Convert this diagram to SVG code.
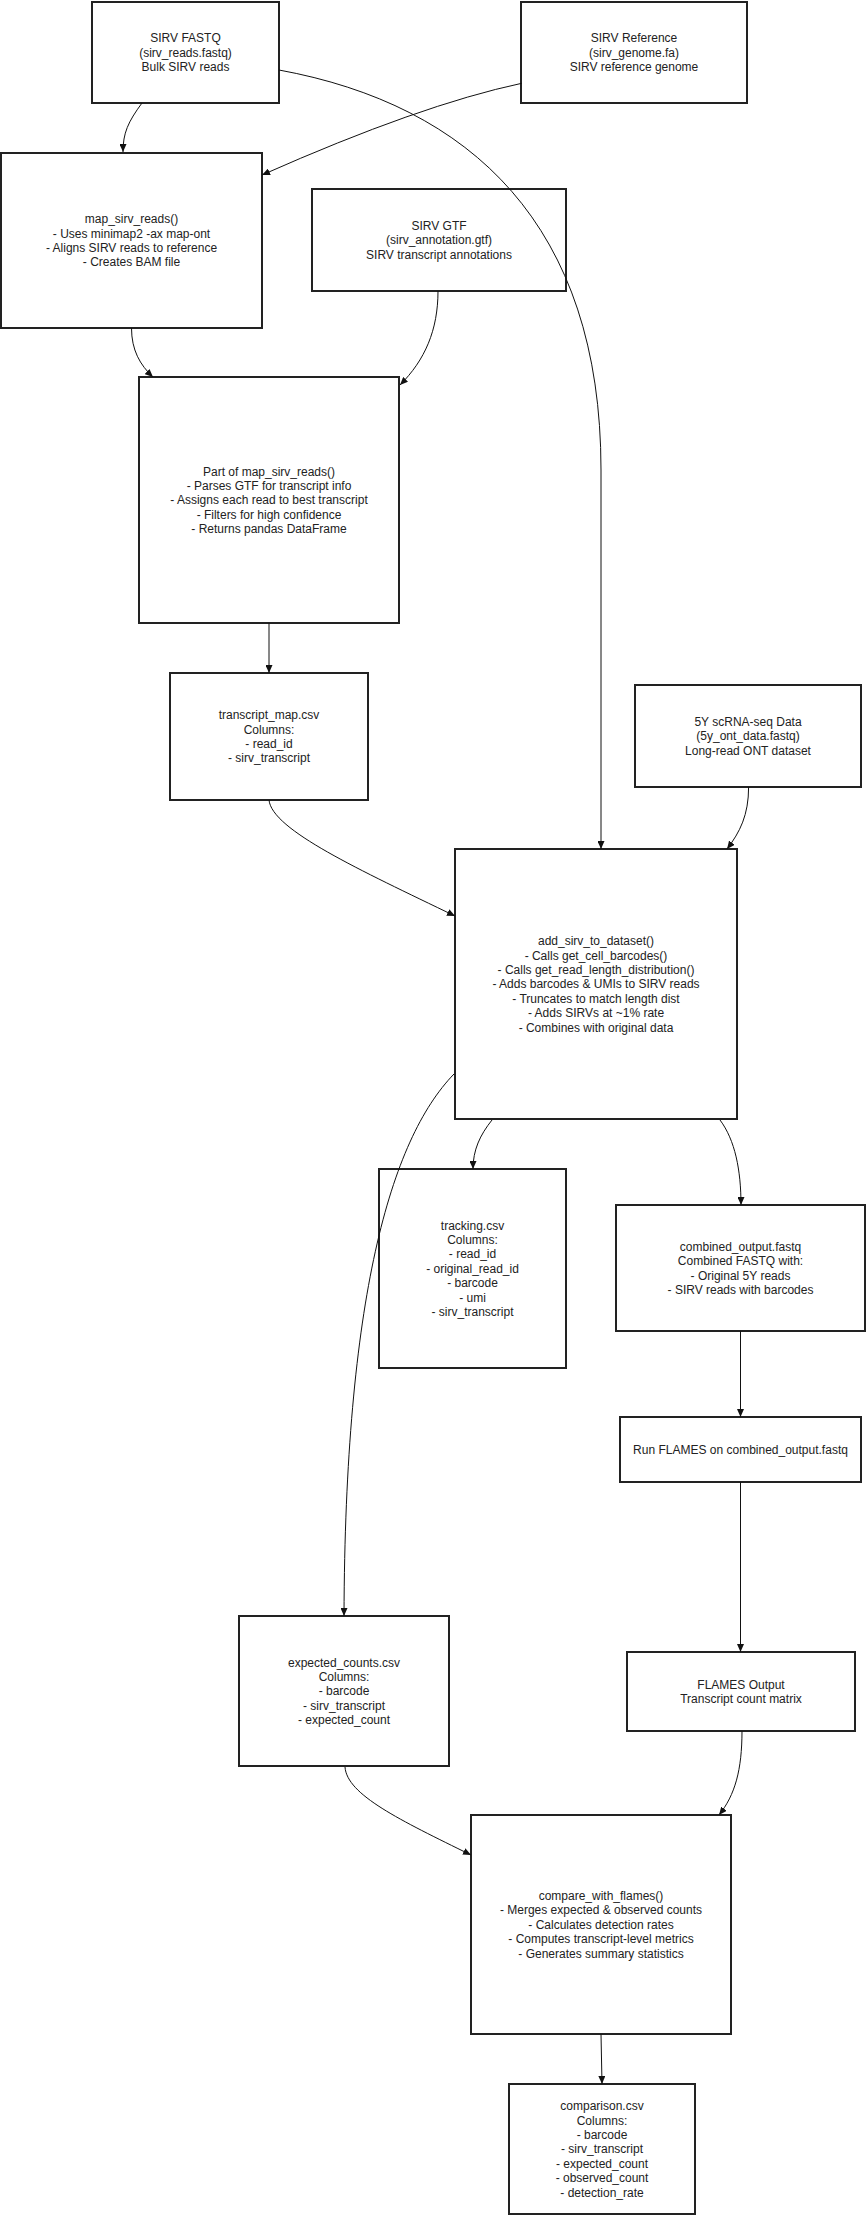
<svg xmlns="http://www.w3.org/2000/svg" width="867" height="2223" viewBox="0 0 867 2223">
  <style>
    .box { fill: #ffffff; stroke: #222222; stroke-width: 2; }
    .lbl { font-family: "Liberation Sans", Arial, Helvetica, sans-serif; font-size: 12px; fill: #222222; text-anchor: middle; }
    .edge { fill: none; stroke: #111111; stroke-width: 1; marker-end: url(#arrow); }
  </style>
  <defs>
    <marker id="arrow" viewBox="0 0 8 7" refX="8" refY="3.5" markerWidth="8" markerHeight="7" markerUnits="userSpaceOnUse" orient="auto">
      <path d="M0,0 L8,3.5 L0,7 z" fill="#111111"/>
    </marker>
  </defs>
  <rect width="867" height="2223" fill="#ffffff"/>

  <!-- nodes -->
  <g id="sirv-fastq">
    <rect class="box" x="92" y="2" width="187" height="101"/>
    <text class="lbl" x="185.5" y="42.4"><tspan x="185.5">SIRV FASTQ</tspan><tspan x="185.5" dy="14.4">(sirv_reads.fastq)</tspan><tspan x="185.5" dy="14.4">Bulk SIRV reads</tspan></text>
  </g>
  <g id="sirv-reference">
    <rect class="box" x="521" y="2" width="226" height="101"/>
    <text class="lbl" x="634" y="42.4"><tspan x="634">SIRV Reference</tspan><tspan x="634" dy="14.4">(sirv_genome.fa)</tspan><tspan x="634" dy="14.4">SIRV reference genome</tspan></text>
  </g>
  <g id="map-sirv-reads">
    <rect class="box" x="1" y="153" width="261" height="175"/>
    <text class="lbl" x="131.5" y="223.2"><tspan x="131.5">map_sirv_reads()</tspan><tspan x="131.5" dy="14.4">- Uses minimap2 -ax map-ont</tspan><tspan x="131.5" dy="14.4">- Aligns SIRV reads to reference</tspan><tspan x="131.5" dy="14.4">- Creates BAM file</tspan></text>
  </g>
  <g id="sirv-gtf">
    <rect class="box" x="312" y="189" width="254" height="102"/>
    <text class="lbl" x="439" y="229.9"><tspan x="439">SIRV GTF</tspan><tspan x="439" dy="14.4">(sirv_annotation.gtf)</tspan><tspan x="439" dy="14.4">SIRV transcript annotations</tspan></text>
  </g>
  <g id="parse-gtf">
    <rect class="box" x="139" y="377" width="260" height="246"/>
    <text class="lbl" x="269" y="475.5"><tspan x="269">Part of map_sirv_reads()</tspan><tspan x="269" dy="14.4">- Parses GTF for transcript info</tspan><tspan x="269" dy="14.4">- Assigns each read to best transcript</tspan><tspan x="269" dy="14.4">- Filters for high confidence</tspan><tspan x="269" dy="14.4">- Returns pandas DataFrame</tspan></text>
  </g>
  <g id="transcript-map">
    <rect class="box" x="170" y="673" width="198" height="127"/>
    <text class="lbl" x="269" y="719.2"><tspan x="269">transcript_map.csv</tspan><tspan x="269" dy="14.4">Columns:</tspan><tspan x="269" dy="14.4">- read_id</tspan><tspan x="269" dy="14.4">- sirv_transcript</tspan></text>
  </g>
  <g id="scrna-data">
    <rect class="box" x="635" y="685" width="226" height="102"/>
    <text class="lbl" x="748" y="725.9"><tspan x="748">5Y scRNA-seq Data</tspan><tspan x="748" dy="14.4">(5y_ont_data.fastq)</tspan><tspan x="748" dy="14.4">Long-read ONT dataset</tspan></text>
  </g>
  <g id="add-sirv">
    <rect class="box" x="455" y="849" width="282" height="270"/>
    <text class="lbl" x="596" y="945.1"><tspan x="596">add_sirv_to_dataset()</tspan><tspan x="596" dy="14.4">- Calls get_cell_barcodes()</tspan><tspan x="596" dy="14.4">- Calls get_read_length_distribution()</tspan><tspan x="596" dy="14.4">- Adds barcodes &amp; UMIs to SIRV reads</tspan><tspan x="596" dy="14.4">- Truncates to match length dist</tspan><tspan x="596" dy="14.4">- Adds SIRVs at ~1% rate</tspan><tspan x="596" dy="14.4">- Combines with original data</tspan></text>
  </g>
  <g id="tracking">
    <rect class="box" x="379" y="1169" width="187" height="199"/>
    <text class="lbl" x="472.5" y="1229.6"><tspan x="472.5">tracking.csv</tspan><tspan x="472.5" dy="14.4">Columns:</tspan><tspan x="472.5" dy="14.4">- read_id</tspan><tspan x="472.5" dy="14.4">- original_read_id</tspan><tspan x="472.5" dy="14.4">- barcode</tspan><tspan x="472.5" dy="14.4">- umi</tspan><tspan x="472.5" dy="14.4">- sirv_transcript</tspan></text>
  </g>
  <g id="combined-output">
    <rect class="box" x="616" y="1205" width="249" height="126"/>
    <text class="lbl" x="740.5" y="1250.7"><tspan x="740.5">combined_output.fastq</tspan><tspan x="740.5" dy="14.4">Combined FASTQ with:</tspan><tspan x="740.5" dy="14.4">- Original 5Y reads</tspan><tspan x="740.5" dy="14.4">- SIRV reads with barcodes</tspan></text>
  </g>
  <g id="run-flames">
    <rect class="box" x="620" y="1417" width="241" height="65"/>
    <text class="lbl" x="740.5" y="1453.8">Run FLAMES on combined_output.fastq</text>
  </g>
  <g id="expected-counts">
    <rect class="box" x="239" y="1616" width="210" height="150"/>
    <text class="lbl" x="344" y="1666.5"><tspan x="344">expected_counts.csv</tspan><tspan x="344" dy="14.4">Columns:</tspan><tspan x="344" dy="14.4">- barcode</tspan><tspan x="344" dy="14.4">- sirv_transcript</tspan><tspan x="344" dy="14.4">- expected_count</tspan></text>
  </g>
  <g id="flames-output">
    <rect class="box" x="627" y="1652" width="228" height="79"/>
    <text class="lbl" x="741" y="1688.6"><tspan x="741">FLAMES Output</tspan><tspan x="741" dy="14.4">Transcript count matrix</tspan></text>
  </g>
  <g id="compare-with-flames">
    <rect class="box" x="471" y="1815" width="260" height="219"/>
    <text class="lbl" x="601" y="1900"><tspan x="601">compare_with_flames()</tspan><tspan x="601" dy="14.4">- Merges expected &amp; observed counts</tspan><tspan x="601" dy="14.4">- Calculates detection rates</tspan><tspan x="601" dy="14.4">- Computes transcript-level metrics</tspan><tspan x="601" dy="14.4">- Generates summary statistics</tspan></text>
  </g>
  <g id="comparison">
    <rect class="box" x="509" y="2084" width="186" height="130"/>
    <text class="lbl" x="602" y="2110.1"><tspan x="602">comparison.csv</tspan><tspan x="602" dy="14.4">Columns:</tspan><tspan x="602" dy="14.4">- barcode</tspan><tspan x="602" dy="14.4">- sirv_transcript</tspan><tspan x="602" dy="14.4">- expected_count</tspan><tspan x="602" dy="14.4">- observed_count</tspan><tspan x="602" dy="14.4">- detection_rate</tspan></text>
  </g>

  <!-- connectors -->
  <g id="connectors">
    <path class="edge" d="M142,103 C128,122 123,133 123,152"/>
    <path class="edge" d="M521.7,83.3 Q420,105 262,175"/>
    <path class="edge" d="M279,70 C470,105 601,225 601,470 L601,849"/>
    <path class="edge" d="M438,291 C438,330 425,360 400,385"/>
    <path class="edge" d="M131.5,328 C131.5,350 140,365 153,377"/>
    <path class="edge" d="M269,623 L269,673"/>
    <path class="edge" d="M269,800 C272,830 360,870 455,916"/>
    <path class="edge" d="M748.6,787 C748.6,815 740,832 727,849"/>
    <path class="edge" d="M454,1074 C390,1140 345,1300 344,1616"/>
    <path class="edge" d="M492,1120 C480,1135 473,1150 473,1169"/>
    <path class="edge" d="M720,1120 C735,1140 741,1170 741,1205"/>
    <path class="edge" d="M740.5,1331 L740.5,1417"/>
    <path class="edge" d="M740.5,1482 L740.5,1652"/>
    <path class="edge" d="M742,1731 C742,1770 735,1795 719,1815"/>
    <path class="edge" d="M345,1767 C347,1795 400,1820 471,1855"/>
    <path class="edge" d="M601,2034 L602,2084"/>
  </g>
</svg>
